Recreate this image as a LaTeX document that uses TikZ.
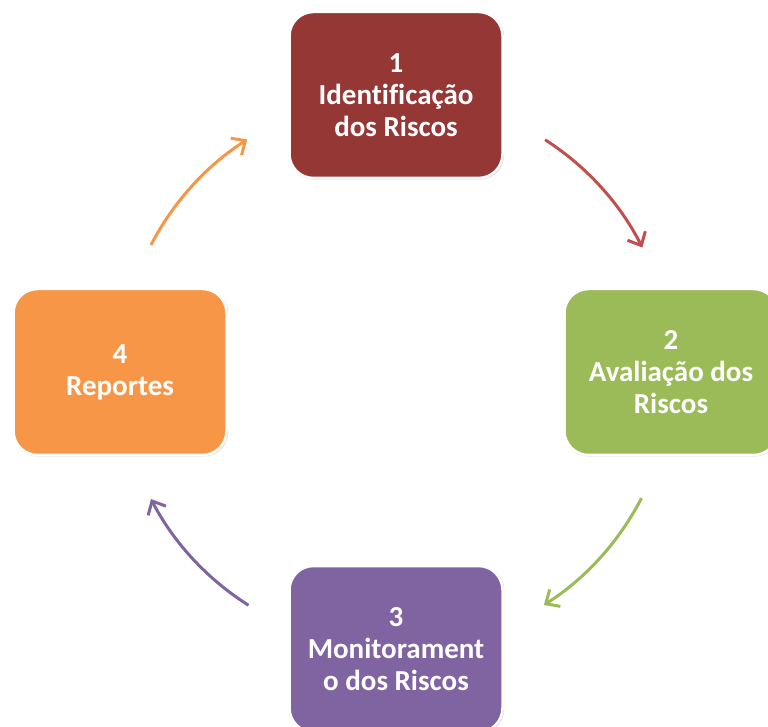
\documentclass[tikz,border=0pt]{standalone}
\usepackage{fontspec}
\setmainfont[Ligatures={NoCommon}]{Carlito}
\usetikzlibrary{arrows.meta,calc,shadows}
\definecolor{cRedBox}{HTML}{953735}
\definecolor{cRedArr}{HTML}{C0504D}
\definecolor{cGreen}{HTML}{9BBB59}
\definecolor{cPurple}{HTML}{8064A2}
\definecolor{cOrange}{HTML}{F79646}
\tikzset{
  stepbox/.style={rounded corners=24pt, minimum width=213pt, minimum height=166pt,
    draw=white, line width=2.5pt, text=white, align=center,
    font=\fontsize{29}{32}\selectfont\bfseries,
    drop shadow={shadow xshift=0.6pt, shadow yshift=-0.6pt, shadow scale=1.01, opacity=0.3, fill=black!50}},
  cyc/.style={line width=3pt, -{Straight Barb[length=11pt,width=20pt,line width=3pt]}}
}
\begin{document}
\begin{tikzpicture}[x=1pt,y=1pt]
\useasboundingbox (0,0) rectangle (768,726);
\clip (0,0) rectangle (768,726);
\fill[white] (0,0) rectangle (768,726);
\coordinate (c) at (396,354);
\node[stepbox, fill=cRedBox] (n1) at (396,631) {1\\Identificação\\dos Riscos};
\node[stepbox, fill=cGreen] (n2) at (671,354) {2\\Avaliação dos\\Riscos};
\node[stepbox, fill=cPurple] (n3) at (396,77) {3\\Monitorament\\o dos Riscos};
\node[stepbox, fill=cOrange] (n4) at (120,354) {4\\Reportes};
\coordinate (a1) at ($(c)+(57.3:276)$);
\coordinate (a2) at ($(c)+(-27.2:276)$);
\coordinate (a3) at ($(c)+(-122.3:276)$);
\coordinate (a4) at ($(c)+(152.6:276)$);
\draw[cyc, cRedArr] (a1) arc[start angle=57.3, end angle=26.8, radius=276];
\draw[cyc, cGreen] (a2) arc[start angle=-27.2, end angle=-57.6, radius=276];
\draw[cyc, cPurple] (a3) arc[start angle=-122.3, end angle=-152.6, radius=276];
\draw[cyc, cOrange] (a4) arc[start angle=152.6, end angle=122.6, radius=276];
\end{tikzpicture}
\end{document}
